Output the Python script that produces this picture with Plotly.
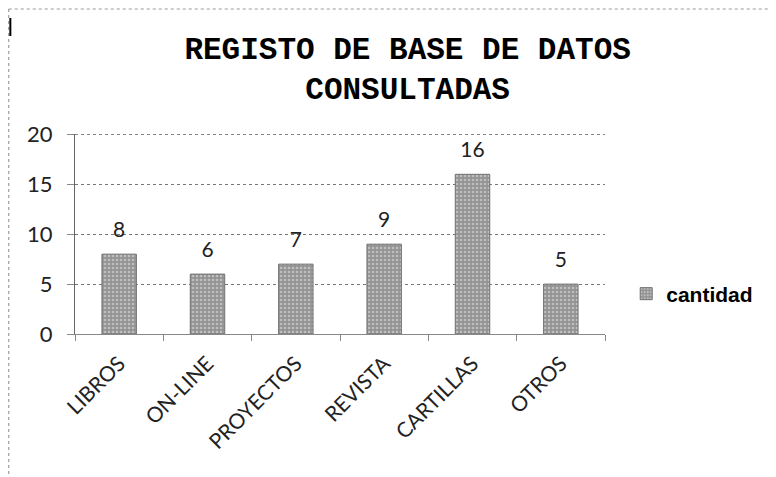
import plotly.graph_objects as go

categories = ["LIBROS", "ON-LINE", "PROYECTOS", "REVISTA", "CARTILLAS", "OTROS"]
cantidad = [8, 6, 7, 9, 16, 5]
y_ticks = [0, 5, 10, 15, 20]
title_text = "REGISTO DE BASE DE DATOS<br>CONSULTADAS"
series_name = "cantidad"

fig = go.Figure()
fig.add_trace(go.Bar(
    x=categories, y=cantidad, name=series_name,
    width=0.39,
    marker=dict(color="#939393", line=dict(color="#707070", width=1),
                pattern=dict(shape=".", fgcolor="#ececec", size=4, solidity=0.35)),
    cliponaxis=False,
))
# value labels (placed above each bar with a small gap)
fig.add_trace(go.Scatter(
    x=categories, y=cantidad, mode="markers+text", showlegend=False, hoverinfo="skip",
    marker=dict(size=18, color="rgba(0,0,0,0)"),
    text=[str(v) for v in cantidad], textposition="top center",
    textfont=dict(family="Lato, Open Sans, sans-serif", size=21, color="#222"),
    cliponaxis=False,
))

fig.update_layout(
    width=776, height=477,
    margin=dict(l=67, r=179, t=126, b=151),
    paper_bgcolor="white", plot_bgcolor="white",
    title=dict(text=title_text, x=0.515, xanchor="center", y=0.893, yanchor="middle",
               font=dict(family="Liberation Mono, Courier New, monospace", size=31, color="black",
                         weight="bold")),
    showlegend=True,
    legend=dict(x=1.04, xanchor="left", y=0.2, yanchor="middle",
                font=dict(family="Liberation Sans, Arial, sans-serif", size=21, color="black", weight="bold"),
                itemwidth=30, bgcolor="rgba(0,0,0,0)"),
)
fig.update_yaxes(range=[0, 20.04], tickvals=y_ticks, showgrid=True, gridcolor="#777", griddash="dot",
                 gridwidth=1, showline=True, linecolor="#666", linewidth=1,
                 ticks="outside", ticklen=7, tickcolor="#888", ticklabelstandoff=10,
                 tickfont=dict(family="Lato, Open Sans, sans-serif", size=22, color="#222"),
                 zeroline=False)
fig.update_xaxes(showline=True, linecolor="#888", linewidth=1, tickangle=-45,
                 ticks="outside", tickson="boundaries", ticklen=6, tickcolor="#888",
                 ticklabelstandoff=8,
                 tickfont=dict(family="Lato, Open Sans, sans-serif", size=21, color="#222"))

# top gridline (at the last tick value)
fig.add_hline(y=y_ticks[-1], line=dict(color="#777", width=1, dash="dot"), layer="below")

# scan border artefacts
fig.add_shape(type="line", xref="paper", yref="paper", x0=-0.125, x1=1.35, y0=1.625, y1=1.625,
              line=dict(color="#999", width=1, dash="dot"))
fig.add_shape(type="line", xref="paper", yref="paper", x0=-0.125, x1=-0.125, y0=1.625, y1=-0.75,
              line=dict(color="#888", width=1, dash="dot"))
fig.add_shape(type="line", xref="paper", yref="paper", x0=-0.122, x1=-0.122, y0=1.58, y1=1.49,
              line=dict(color="black", width=2))

fig.write_html("out.html")
